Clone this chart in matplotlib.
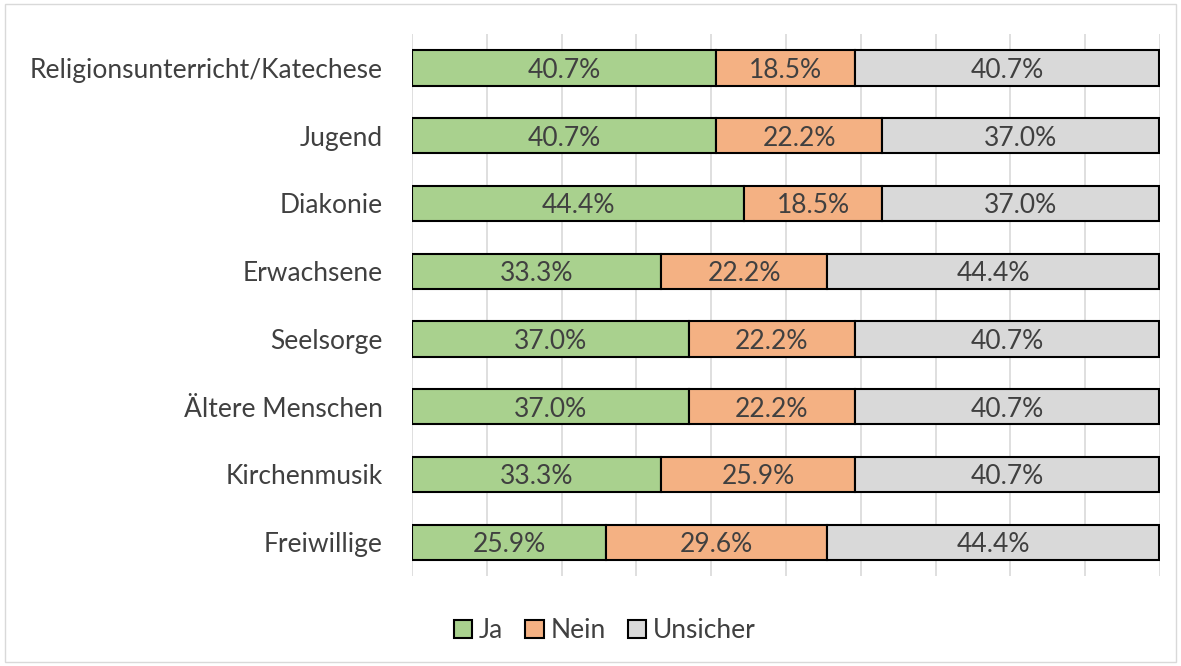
import matplotlib
matplotlib.use("Agg")
import matplotlib.pyplot as plt
from matplotlib.patches import Rectangle

# Daten (von oben nach unten)
categories = ["Religionsunterricht/Katechese", "Jugend", "Diakonie", "Erwachsene",
              "Seelsorge", "Ältere Menschen", "Kirchenmusik", "Freiwillige"]
ja = [40.7, 40.7, 44.4, 33.3, 37.0, 37.0, 33.3, 25.9]
nein = [18.5, 22.2, 18.5, 22.2, 22.2, 22.2, 25.9, 29.6]
unsicher = [40.7, 37.0, 37.0, 44.4, 40.7, 40.7, 40.7, 44.4]
series = [("Ja", ja, "#A9D18E"), ("Nein", nein, "#F4B183"), ("Unsicher", unsicher, "#D9D9D9")]

plt.rcParams["font.family"] = ["Lato", "DejaVu Sans"]
text_color = "#404040"

fig = plt.figure(figsize=(11.81, 6.66), dpi=100)
ax = fig.add_axes([0.3489, 0.1351, 0.6333, 0.8138])

y = list(range(len(categories)))
left = [0.0] * len(categories)
for name, vals, color in series:
    bars = ax.barh(y, vals, left=left, height=0.52, color=color,
                   edgecolor="black", linewidth=1.5, label=name, zorder=3)
    for b, v in zip(bars, vals):
        ax.text(b.get_x() + b.get_width() / 2, b.get_y() + b.get_height() / 2,
                f"{v:.1f}%", ha="center", va="center_baseline", fontsize=19,
                color=text_color, zorder=4)
    left = [l + v for l, v in zip(left, vals)]

ax.set_xlim(0, 100)
ax.set_ylim(len(categories) - 0.5, -0.5)
ax.set_yticks(y)
ax.set_yticklabels(categories, fontsize=19, color=text_color)
ax.set_xticks(range(0, 101, 10))
ax.set_xticklabels([])
ax.tick_params(axis="both", length=0, pad=21)
ax.grid(axis="x", color="#D9D9D9", linewidth=1.2, zorder=0)
for s in ax.spines.values():
    s.set_visible(False)

leg = fig.legend(loc="center", bbox_to_anchor=(0.512, 0.053), ncol=3, frameon=False,
                 fontsize=19, handlelength=0.7, handleheight=0.7,
                 handletextpad=0.25, columnspacing=0.85)
for t in leg.get_texts():
    t.set_color(text_color)

fig.patches.append(Rectangle((0.004, 0.006), 0.992, 0.988, transform=fig.transFigure,
                             fill=False, edgecolor="#D9D9D9", linewidth=1))

fig.savefig("out.png", dpi=100)
